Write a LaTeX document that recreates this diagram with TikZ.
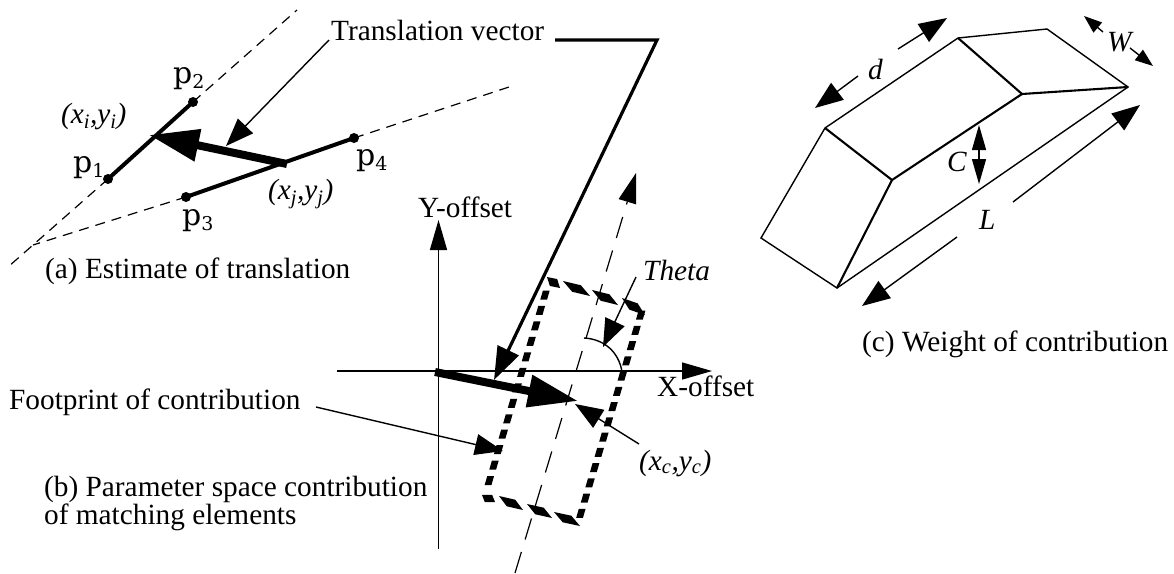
\documentclass[tikz,border=0pt]{standalone}
\usepackage{fontspec}
\setmainfont{Liberation Serif}
\newfontfamily\pfont{DejaVu Serif}
\usetikzlibrary{arrows.meta}
\newcommand{\psub}[1]{{\fontsize{30}{33}\selectfont p}\raisebox{-5pt}{\fontsize{19}{24}\selectfont #1}}
\tikzset{
 thinl/.style={line width=1.4pt},
 medl/.style={line width=2.1pt},
 heavyl/.style={line width=4pt},
 vecl/.style={line width=8pt},
 dashl/.style={line width=1.2pt,dash pattern=on 10pt off 7pt},
 headA/.style={-{Triangle[length=28pt,width=21pt]}},
 headS/.style={-{Triangle[length=18pt,width=13pt]}},
 headV/.style={-{Triangle[length=50pt,width=31pt]}},
 lab/.style={font=\fontsize{29.3}{34}\selectfont,inner sep=0pt,anchor=base west},
 ilab/.style={font=\fontsize{29.3}{34}\selectfont\itshape,inner sep=0pt,anchor=base west},
 plab/.style={font=\pfont,inner sep=0pt,anchor=base west},
 dotp/.style={circle,fill=black,inner sep=0pt,minimum size=10pt},
}
\begin{document}
\begin{tikzpicture}[x=1pt,y=-1pt]
\useasboundingbox (0,0) rectangle (1174,573);
% part a
\coordinate (d1) at (297,10); \coordinate (d2) at (8,267); \coordinate (d3) at (33,245); \coordinate (d4) at (512,86);
\node[dotp] (p1) at (108,179) {};
\node[dotp] (p2) at (193,102) {};
\node[dotp] (p3) at (186,197) {};
\node[dotp] (p4) at (354,138) {};
\coordinate (cross) at (287,164); \coordinate (tipa) at (149,135);
\draw[dashl] (p2.center) -- (d1);
\draw[dashl] (p1.center) -- (d2);
\draw[dashl] (p3.center) -- (d3);
\draw[dashl] (p4.center) -- (d4);
\draw[heavyl] (p1.center) -- (p2.center);
\draw[heavyl] (p3.center) -- (p4.center);
\draw[vecl,headV] (cross) -- (tipa);
\node[plab] (lp1) at (73,172) {\psub{1}};
\node[plab] (lp2) at (173,83) {\psub{2}};
\node[plab] (lp3) at (182,225) {\psub{3}};
\node[plab] (lp4) at (356,165) {\psub{4}};
\node[ilab] (xi) at (61,123) {(x\textsubscript{i},y\textsubscript{i})};
\node[ilab] (xj) at (268,199) {(x\textsubscript{j},y\textsubscript{j})};
\node[lab] (ca) at (45,278) {(a) Estimate of translation};
% translation vector
\node[lab] (tv) at (331,40) {Translation vector};
\coordinate (tv1) at (329,40); \coordinate (tv2) at (226,146);
\draw[thinl,headA] (tv1) -- (tv2);
\coordinate (h1) at (555,40); \coordinate (h2) at (657,40); \coordinate (h3) at (494,380);
\draw[line width=3.2pt,-{Triangle[length=33pt,width=23pt]}] (h1) -- (h2) -- (h3);
% part b
\coordinate (yb) at (438.5,549); \coordinate (yt) at (438.5,220);
\coordinate (xl) at (337,371); \coordinate (xr) at (712,371);
\draw[thinl,-{Triangle[length=30pt,width=17pt]}] (yb) -- (yt);
\draw[thinl,-{Triangle[length=30pt,width=17pt]}] (xl) -- (xr);
\coordinate (cl1) at (515,573); \coordinate (cl2) at (636,173);
\draw[line width=1.2pt,dash pattern=on 22pt off 13pt,-{Triangle[length=30pt,width=18pt]}] (cl1) -- (cl2);
% long sides of the footprint
\foreach \i in {0,...,12}{
 \fill ({545-4.64*\i+1.3-3.4},{295+15.47*\i-4.5}) -- ({545-4.64*\i+1.3+3.4},{295+15.47*\i-4.5}) -- ({545-4.64*\i-1.3+3.4},{295+15.47*\i+4.5}) -- ({545-4.64*\i-1.3-3.4},{295+15.47*\i+4.5}) -- cycle;}
\foreach \i in {0,...,13}{
 \fill ({640.7-4.6*\i+1.3-3.4},{315+15.25*\i-4.5}) -- ({640.7-4.6*\i+1.3+3.4},{315+15.25*\i-4.5}) -- ({640.7-4.6*\i-1.3+3.4},{315+15.25*\i+4.5}) -- ({640.7-4.6*\i-1.3-3.4},{315+15.25*\i+4.5}) -- cycle;}
% top and bottom dashes of the footprint
\foreach \ax/\ay/\bx/\by in {547/277/560/288, 563/281/590/296, 592/290/618/305, 622/298/645/315}{
 \fill (\ax,\ay) -- (\ax+0.55*\bx-0.55*\ax+3,\ay+0.55*\by-0.55*\ay-4) -- (\bx,\by) -- (\ax+0.45*\bx-0.45*\ax-3,\ay+0.45*\by-0.45*\ay+4) -- cycle;}
\foreach \ax/\ay/\bx/\by in {482/495/495/502, 499/496/523/510, 527/504/552/518, 554/512/580/526}{
 \fill (\ax,\ay) -- (\ax+0.55*\bx-0.55*\ax+3,\ay+0.55*\by-0.55*\ay-4) -- (\bx,\by) -- (\ax+0.45*\bx-0.45*\ax-3,\ay+0.45*\by-0.45*\ay+4) -- cycle;}
\coordinate (v0) at (435,372); \coordinate (v1) at (578,401);
\draw[vecl,headV] (v0) -- (v1);
\coordinate (a1) at (584,338); \coordinate (a2) at (622,372);
\draw[thinl] (a1) .. controls (604,339) and (619,352) .. (a2);
\coordinate (th1) at (636,277); \coordinate (th2) at (603,347);
\draw[thinl,headA] (th1) -- (th2);
\coordinate (xc1) at (639,444); \coordinate (xc2) at (575,404);
\draw[thinl,headA] (xc1) -- (xc2);
\coordinate (fp1) at (316,407); \coordinate (fp2) at (503,451);
\draw[thinl,headA] (fp1) -- (fp2);
\node[lab] (yo) at (418,217) {Y-offset};
\node[lab] (xo) at (657,396) {X-offset};
\node[ilab] (th) at (643,280) {Theta};
\node[ilab] (xc) at (639,470) {(x\textsubscript{c},y\textsubscript{c})};
\node[lab] (fp) at (9,409) {Footprint of contribution};
\node[lab] (cb1) at (44,496) {(b) Parameter space contribution};
\node[lab] (cb2) at (44,524) {of matching elements};
% part c
\coordinate (A) at (958,38); \coordinate (B) at (1047,29); \coordinate (C) at (1128,87); \coordinate (D) at (1022,94);
\coordinate (E) at (892,180); \coordinate (F) at (825,128); \coordinate (G) at (761,238); \coordinate (H) at (837,288);
\draw[thinl,line join=miter] (F) -- (A) -- (B) -- (C) -- (H) -- (G) -- cycle;
\draw[medl] (A) -- (D) -- (E) -- (F);
\draw[medl] (H) -- (E);
\draw[medl] (D) -- (C);
\coordinate (d1a) at (898,49); \coordinate (d1b) at (947,18); \coordinate (d2a) at (858,76); \coordinate (d2b) at (815,108);
\draw[thinl,headA] (d1a) -- (d1b);
\draw[thinl,headA] (d2a) -- (d2b);
\coordinate (w1a) at (1103,32); \coordinate (w1b) at (1084,16); \coordinate (w2a) at (1130,48); \coordinate (w2b) at (1153,66);
\draw[thinl,headS] (w1a) -- (w1b);
\draw[thinl,headS] (w2a) -- (w2b);
\coordinate (c1) at (979,155); \coordinate (c2) at (979,125); \coordinate (c3) at (979,184);
\draw[thinl,-{Triangle[length=25pt,width=14pt]}] (c1) -- (c2);
\draw[thinl,-{Triangle[length=25pt,width=14pt]}] (c1) -- (c3);
\coordinate (l1a) at (1013,202); \coordinate (l1b) at (1140,105); \coordinate (l2a) at (957,237); \coordinate (l2b) at (862,306);
\draw[thinl,headA] (l1a) -- (l1b);
\draw[thinl,headA] (l2a) -- (l2b);
\node[ilab] (ld) at (868,79) {d};
\node[ilab] (lw) at (1107,51) {W};
\node[ilab] (lc) at (947,171) {C};
\node[ilab] (ll) at (979,229) {L};
\node[lab] (cc) at (862,351) {(c) Weight of contribution};
\end{tikzpicture}
\end{document}
